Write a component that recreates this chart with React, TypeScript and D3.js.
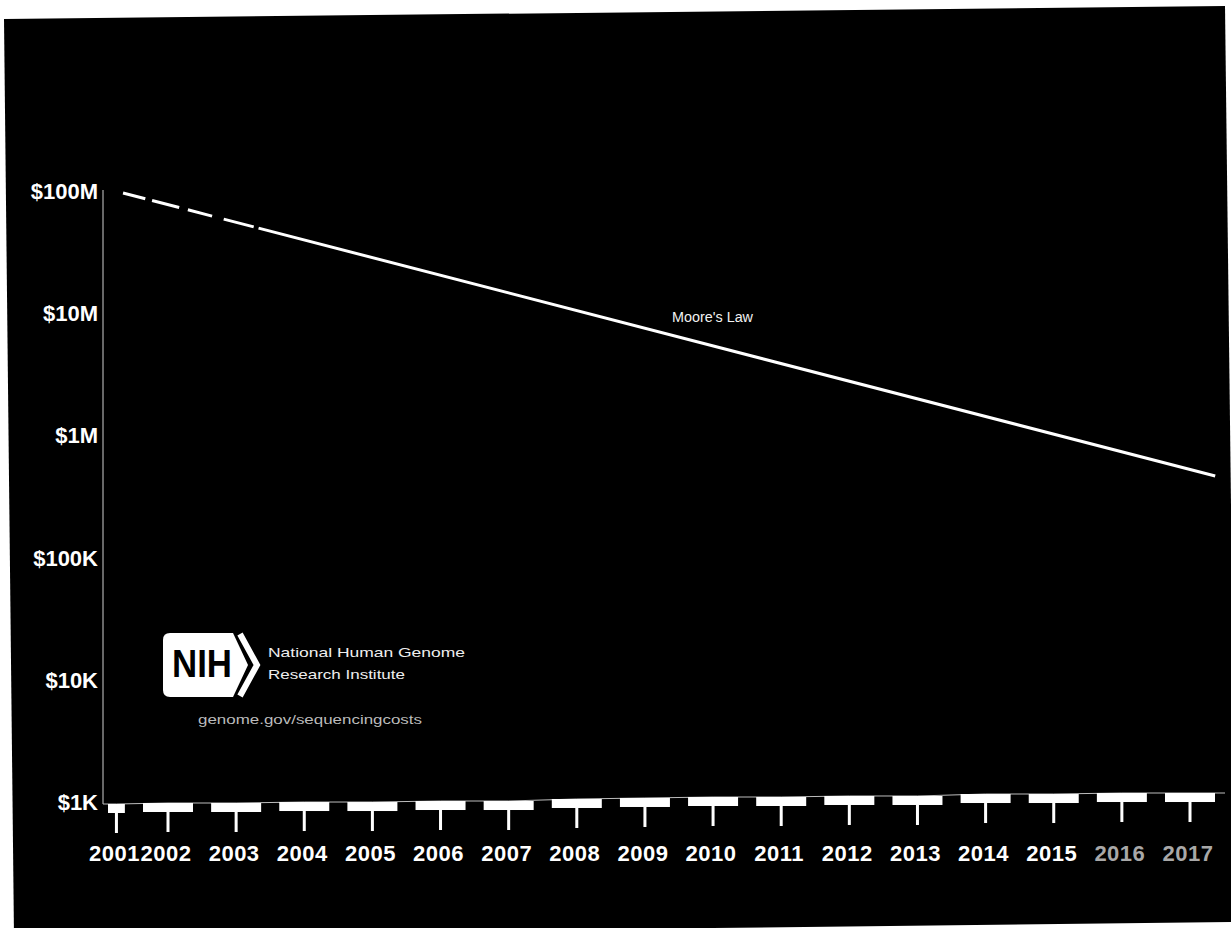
import React from "react";
import * as d3 from "d3";

// ---- data ----
const years = [2001, 2002, 2003, 2004, 2005, 2006, 2007, 2008, 2009, 2010, 2011, 2012, 2013, 2014, 2015, 2016, 2017];
const costPerGenome = [1000, 1019, 1019, 1038, 1038, 1058, 1058, 1099, 1120, 1141, 1141, 1163, 1163, 1207, 1207, 1230, 1230];
const mooreYears = [2001.34, 2017.37];
const mooreCost = [1e8, 4.83e5];
const yTicks = [1e3, 1e4, 1e5, 1e6, 1e7, 1e8];
const yTickLabels = ["$1K", "$10K", "$100K", "$1M", "$10M", "$100M"];
const fadedYears = [2016, 2017];

const W = 1231;
const H = 928;

export default function App() {
  const axisX = 103;
  const x = d3.scaleLinear().domain([2002, 2017]).range([168, 1190]);
  const y = d3.scaleLog().domain([1e3, 1e8]).range([804, 193]);
  const bandW = 50;
  const barH = 9;
  const stemLen = 20;
  const clipLeft = axisX + 5;

  const moorePts: [number, number][] = mooreYears.map((yr, i) => [x(yr), y(mooreCost[i])]);
  const mooreLine = d3.line()(moorePts) || "";

  const barInfo = years.map((yr, i) => {
    const cx = x(yr);
    const left = Math.max(cx - bandW / 2, clipLeft);
    const right = cx + bandW / 2;
    const mid = (left + right) / 2;
    return { yr, left, right, mid, top: y(costPerGenome[i]) };
  });

  const basePts: [number, number][] = [
    [axisX, barInfo[0].top],
    ...barInfo.map((b) => [b.mid, b.top] as [number, number]),
    [1225, barInfo[barInfo.length - 1].top],
  ];
  const baseLine = d3.line()(basePts) || "";

  const font = "'Liberation Sans', Arial, sans-serif";

  return (
    <svg
      width={W}
      height={H}
      style={{ position: "absolute", left: 0, top: 0, background: "#fff" }}
      fontFamily={font}
    >
      <polygon points="4,19 1225,6 1236,922 14,936" fill="#000" />

      {/* y axis */}
      <line x1={axisX} x2={axisX} y1={y(1e8) - 3} y2={y(1e3)} stroke="#cfcfcf" strokeWidth={1} />
      {yTicks.map((t, i) => (
        <text
          key={t}
          x={98}
          y={y(t) + 6}
          textAnchor="end"
          fill="#fff"
          fontSize={22}
          fontWeight="bold"
        >
          {yTickLabels[i]}
        </text>
      ))}

      {/* base line through the cost values */}
      <path d={baseLine} fill="none" stroke="#bdbdbd" strokeWidth={1} />

      {/* bars with stems */}
      {barInfo.map((b) => (
        <g key={b.yr}>
          <rect x={b.left} y={b.top} width={b.right - b.left} height={barH} fill="#fff" />
          <rect x={b.mid - 1.5} y={b.top + barH} width={3} height={stemLen} fill="#fff" />
          <text
            x={b.mid - 2}
            y={861}
            textAnchor="middle"
            fontSize={22}
            fontWeight="bold"
            letterSpacing={0.5}
            fill={fadedYears.includes(b.yr) ? "#a8a8a8" : "#fff"}
          >
            {b.yr}
          </text>
        </g>
      ))}

      {/* Moore's law */}
      <path
        d={mooreLine}
        fill="none"
        stroke="#fff"
        strokeWidth={3}
        strokeDasharray="23,7,28,9,25,12,31,5,5000"
      />
      <text x={672} y={322} fontSize={14} fill="#f2f2f2" textLength={81} lengthAdjust="spacingAndGlyphs">
        Moore's Law
      </text>

      {/* NIH logo */}
      <path
        d="M170,633 L233,633 L248,665 L233,697 L170,697 Q163,697 163,690 L163,640 Q163,633 170,633 Z"
        fill="#fff"
      />
      <path d="M240,634 L257,665 L240,696" fill="none" stroke="#fff" strokeWidth={6} />
      <text x={172} y={677} fontSize={38} fontWeight="bold" fill="#000" textLength={60} lengthAdjust="spacingAndGlyphs">
        NIH
      </text>
      <text x={268} y={657} fontSize={13} fill="#eee" textLength={197} lengthAdjust="spacingAndGlyphs">
        National Human Genome
      </text>
      <text x={268} y={679} fontSize={13} fill="#eee" textLength={137} lengthAdjust="spacingAndGlyphs">
        Research Institute
      </text>
      <text x={198} y={724} fontSize={12} fill="#bbb" textLength={224} lengthAdjust="spacingAndGlyphs">
        genome.gov/sequencingcosts
      </text>
    </svg>
  );
}
